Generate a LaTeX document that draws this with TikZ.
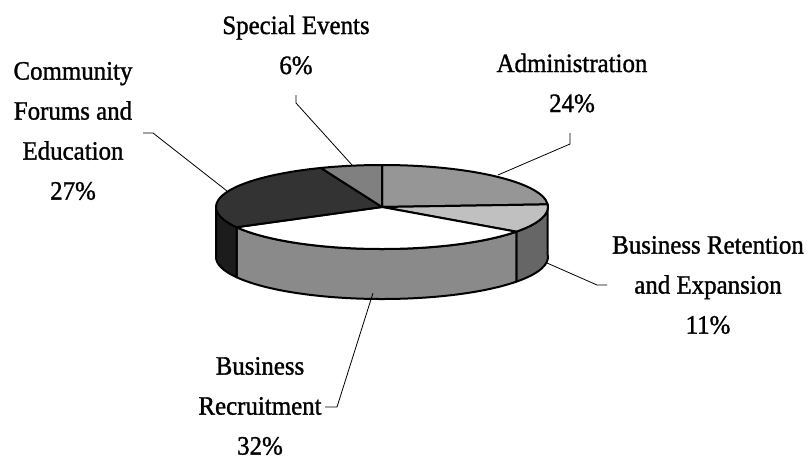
\documentclass[tikz,border=0pt]{standalone}
\usepackage{fontspec}
\setmainfont{Liberation Serif}
\newfontfamily\lblfont{Liberation Serif}[FakeStretch=0.94,FakeBold=1.2]
\definecolor{adminTop}{HTML}{969696}
\definecolor{retTop}{HTML}{C0C0C0}
\definecolor{retSide}{HTML}{666666}
\definecolor{recTop}{HTML}{FFFFFF}
\definecolor{recSide}{HTML}{8A8A8A}
\definecolor{comTop}{HTML}{333333}
\definecolor{comSide}{HTML}{1C1C1C}
\definecolor{speTop}{HTML}{808080}
\tikzset{
  slice/.style={draw=black, line width=2pt, line join=round},
  leader/.style={draw=black, line width=0.8pt},
  lbl/.style={align=center, inner sep=0pt, font=\lblfont\fontsize{26.5}{40}\selectfont}
}
\begin{document}
\begin{tikzpicture}[x=1pt,y=-1pt]
\useasboundingbox (0,0) rectangle (808,460);
\coordinate (C) at (382,207);
\begin{scope}[shift={(C)}]
\filldraw[slice, fill=retSide] (-3.6:166 and 42) arc[start angle=-3.6, end angle=36, x radius=166, y radius=42] -- ++(0,50) arc[start angle=36, end angle=-3.6, x radius=166, y radius=42] -- cycle;
\filldraw[slice, fill=recSide] (36:166 and 42) arc[start angle=36, end angle=151.2, x radius=166, y radius=42] -- ++(0,50) arc[start angle=151.2, end angle=36, x radius=166, y radius=42] -- cycle;
\filldraw[slice, fill=comSide] (151.2:166 and 42) arc[start angle=151.2, end angle=180, x radius=166, y radius=42] -- ++(0,50) arc[start angle=180, end angle=151.2, x radius=166, y radius=42] -- cycle;
\filldraw[slice, fill=adminTop] (0,0) -- (-90:166 and 42) arc[start angle=-90, end angle=-3.6, x radius=166, y radius=42] -- cycle;
\filldraw[slice, fill=retTop] (0,0) -- (-3.6:166 and 42) arc[start angle=-3.6, end angle=36, x radius=166, y radius=42] -- cycle;
\filldraw[slice, fill=recTop] (0,0) -- (36:166 and 42) arc[start angle=36, end angle=151.2, x radius=166, y radius=42] -- cycle;
\filldraw[slice, fill=comTop] (0,0) -- (151.2:166 and 42) arc[start angle=151.2, end angle=248.4, x radius=166, y radius=42] -- cycle;
\filldraw[slice, fill=speTop] (0,0) -- (248.4:166 and 42) arc[start angle=248.4, end angle=270, x radius=166, y radius=42] -- cycle;
\end{scope}
\node[lbl] (lSE) at (296,45) {Special Events\\6\%};
\node[lbl] (lAD) at (572,83) {Administration\\24\%};
\node[lbl] (lCF) at (73,131) {Community\\Forums and\\Education\\27\%};
\node[lbl] (lBR) at (708,285) {Business Retention\\and Expansion\\11\%};
\node[lbl] (lRC) at (260,406) {Business\\Recruitment\\32\%};
\coordinate (pSE) at (352,165);
\coordinate (kSE) at (296,103);
\coordinate (sSE) at (296,95);
\coordinate (pAD) at (498,175);
\coordinate (kAD) at (570,144);
\coordinate (sAD) at (570,133);
\coordinate (pCF) at (227,191);
\coordinate (kCF) at (153,133);
\coordinate (sCF) at (143,133);
\coordinate (pBR) at (547,263);
\coordinate (kBR) at (597,285);
\coordinate (sBR) at (607,285);
\coordinate (pRC) at (373,293);
\coordinate (kRC) at (337,407);
\coordinate (sRC) at (325,407);
\draw[leader] (sSE) -- (kSE) -- (pSE);
\draw[leader] (sAD) -- (kAD) -- (pAD);
\draw[leader] (sCF) -- (kCF) -- (pCF);
\draw[leader] (sBR) -- (kBR) -- (pBR);
\draw[leader] (sRC) -- (kRC) -- (pRC);
\end{tikzpicture}
\end{document}
